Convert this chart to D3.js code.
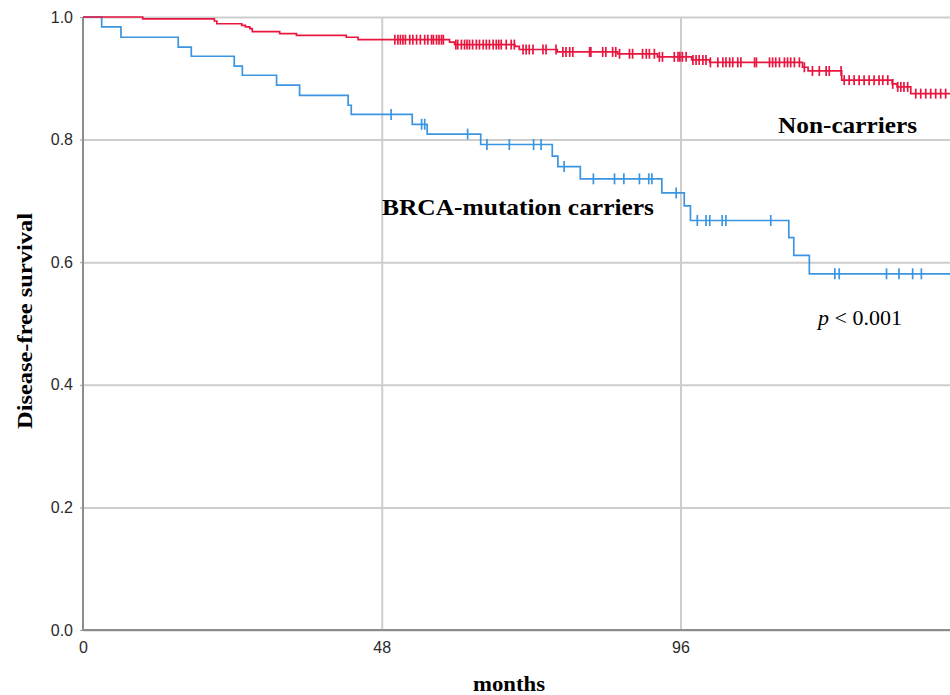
<!DOCTYPE html>
<html>
<head>
<meta charset="utf-8">
<script src="https://cdn.jsdelivr.net/npm/d3@7"></script>
<style>
  body { margin: 0; background: #fff; }
  svg { display: block; }
</style>
</head>
<body>
<div id="container"></div>
<script>
/* CONSTANTS AND GLOBALS */
const width = 950,
  height = 695,
  margin = { top: 17, bottom: 65, left: 83, right: 0 };

/* DATA */
// BRCA-mutation carriers: event months and survival after each drop
const brcaTimes = [3.0, 6.1, 15.3, 17.4, 24.3, 25.6, 31.1, 34.8, 42.6, 43.1, 52.9, 55.3,
  63.9, 75.4, 76.3, 79.9, 93.0, 96.6, 97.6, 113.4, 114.2, 116.7];
const brcaSurv = [0.984, 0.967, 0.951, 0.936, 0.920, 0.905, 0.889, 0.872, 0.856, 0.841, 0.825, 0.809,
  0.792, 0.773, 0.756, 0.736, 0.713, 0.692, 0.668, 0.640, 0.611, 0.581];
const brcaCensored = [49.5, 54.4, 54.9, 61.8, 64.9, 68.5, 72.4, 73.6, 77.3, 82.0, 85.4, 86.9,
  89.4, 90.9, 91.4, 95.3, 98.7, 100.1, 100.7, 102.7, 103.3, 110.5, 120.8, 121.5, 129.1, 131.1,
  133.3, 134.7];

// Non-carriers
const nonTimes = [9.6, 21.1, 21.5, 25.5, 26.1, 26.8, 27.2, 31.6, 34.3, 42.3, 44.2, 58.9, 59.7,
  69.4, 70.1, 76.2, 85.9, 92.3, 97.8, 100.7, 115.6, 116.5, 121.9, 130.0, 130.8, 133.0];
const nonSurv = [0.997, 0.9935, 0.989, 0.9865, 0.984, 0.981, 0.976, 0.973, 0.970, 0.967, 0.963,
  0.959, 0.955, 0.952, 0.947, 0.943, 0.940, 0.935, 0.930, 0.926, 0.918, 0.912, 0.897, 0.891,
  0.886, 0.875];
const nonCensored = [50.1, 50.6, 51.0, 51.4, 51.8, 52.5, 53.0, 53.6, 54.2, 54.9, 55.4, 56.0, 56.3,
  56.8, 57.2, 57.6, 57.9, 59.9, 60.2, 60.8, 61.3, 61.7, 62.1, 62.6, 63.2, 63.7, 64.3, 64.8, 65.3,
  65.9, 66.4, 66.8, 67.2, 68.0, 68.8, 69.3, 70.7, 71.2, 71.7, 72.3, 73.9, 74.4, 76.0, 77.1, 77.6,
  78.2, 78.7, 81.4, 81.6, 83.5, 84.0, 85.1, 85.6, 86.2, 87.8, 88.3, 89.9, 90.5, 91.0, 91.8, 92.6,
  93.1, 95.0, 95.6, 95.9, 96.3, 96.9, 98.0, 98.5, 99.0, 99.6, 100.1, 100.8, 102.0, 102.8, 103.3,
  103.9, 104.4, 105.2, 105.7, 107.9, 108.2, 110.3, 110.8, 111.3, 111.9, 112.7, 113.2, 113.7,
  114.3, 115.1, 115.9, 117.2, 118.3, 119.4, 119.9, 121.8, 122.3, 123.1, 123.9, 124.7, 125.5,
  126.3, 127.1, 127.9, 128.5, 129.3, 130.1, 130.9, 131.4, 131.9, 132.5, 133.8, 134.6, 135.4,
  136.2, 137.0, 137.8, 138.6];

const xTicks = [0, 48, 96];
const yTicks = [0, 0.2, 0.4, 0.6, 0.8, 1.0];
const maxMonth = 139.3;

/* SCALES */
const xScale = d3.scaleLinear()
  .domain([0, maxMonth])
  .range([margin.left, width - margin.right]);

const yScale = d3.scaleLinear()
  .domain([0, 1])
  .range([height - margin.bottom, margin.top]);

/* HTML ELEMENTS */
const svg = d3.select("#container")
  .append("svg")
  .attr("width", width)
  .attr("height", height);

// grid
svg.append("g")
  .attr("transform", `translate(${margin.left},0)`)
  .call(d3.axisLeft(yScale).tickValues(yTicks).tickSize(-(width - margin.left)).tickFormat(""))
  .call(g => g.select(".domain").remove())
  .call(g => g.selectAll("line").attr("stroke", "#cdcdcd").attr("stroke-width", 2));

svg.append("g")
  .attr("transform", `translate(0,${height - margin.bottom})`)
  .call(d3.axisBottom(xScale).tickValues(xTicks.slice(1)).tickSize(-(height - margin.bottom - margin.top)).tickFormat(""))
  .call(g => g.select(".domain").remove())
  .call(g => g.selectAll("line").attr("stroke", "#cdcdcd").attr("stroke-width", 2));

// axes
const yAxis = d3.axisLeft(yScale).tickValues(yTicks).tickSize(3).tickPadding(7).tickFormat(d3.format(".1f"));
const xAxis = d3.axisBottom(xScale).tickValues(xTicks).tickSize(0).tickPadding(12);

svg.append("g")
  .attr("transform", `translate(${margin.left},0)`)
  .call(yAxis)
  .call(g => g.select(".domain").attr("stroke", "#8c8c8c").attr("stroke-width", 2).attr("d", `M0,${yScale(0)}V${yScale(1)}`))
  .call(g => g.selectAll("line").attr("stroke", "#9a9a9a"))
  .call(g => g.selectAll("text").attr("fill", "#2a2a2a").style("font", "16px 'Liberation Sans', Arial, sans-serif"));

svg.append("g")
  .attr("transform", `translate(0,${height - margin.bottom})`)
  .call(xAxis)
  .call(g => g.select(".domain").attr("stroke", "#8c8c8c").attr("stroke-width", 2).attr("d", `M${xScale(0)},0H${width}`))
  .call(g => g.selectAll("text").attr("fill", "#2a2a2a").style("font", "16px 'Liberation Sans', Arial, sans-serif"));

/* CURVES */
function stepPoints(times, surv) {
  const pts = [[0, 1]];
  times.forEach((t, i) => pts.push([t, surv[i]]));
  pts.push([maxMonth, surv[surv.length - 1]]);
  return pts;
}
function survAt(times, surv, t) {
  let s = 1;
  times.forEach((ti, i) => { if (ti <= t) s = surv[i]; });
  return s;
}

const line = d3.line()
  .x(d => xScale(d[0]))
  .y(d => yScale(d[1]))
  .curve(d3.curveStepAfter);

const groups = [
  { times: brcaTimes, surv: brcaSurv, cens: brcaCensored, color: "#3b95e1", tick: 5.5 },
  { times: nonTimes, surv: nonSurv, cens: nonCensored, color: "#e8163f", tick: 5 }
];

groups.forEach(gr => {
  svg.append("path")
    .datum(stepPoints(gr.times, gr.surv))
    .attr("fill", "none")
    .attr("stroke", gr.color)
    .attr("stroke-width", 1.7)
    .attr("d", line);

  svg.append("g")
    .selectAll("line")
    .data(gr.cens)
    .join("line")
    .attr("x1", d => xScale(d))
    .attr("x2", d => xScale(d))
    .attr("y1", d => yScale(survAt(gr.times, gr.surv, d)) - gr.tick)
    .attr("y2", d => yScale(survAt(gr.times, gr.surv, d)) + gr.tick)
    .attr("stroke", gr.color)
    .attr("stroke-width", 1.7);
});

/* LABELS */
const serif = "'Liberation Serif', 'Times New Roman', serif";

svg.append("text")
  .attr("x", 778).attr("y", 133)
  .attr("textLength", 139).attr("lengthAdjust", "spacingAndGlyphs")
  .style("font", `bold 24px ${serif}`)
  .text("Non-carriers");

svg.append("text")
  .attr("x", 382).attr("y", 215)
  .attr("textLength", 272).attr("lengthAdjust", "spacingAndGlyphs")
  .style("font", `bold 24px ${serif}`)
  .text("BRCA-mutation carriers");

const pText = svg.append("text")
  .attr("x", 818).attr("y", 325)
  .style("font", `22px ${serif}`);
pText.append("tspan").style("font-style", "italic").text("p");
pText.append("tspan").text(" < 0.001");

svg.append("text")
  .attr("transform", `translate(32,321) rotate(-90)`)
  .attr("text-anchor", "middle")
  .attr("textLength", 216).attr("lengthAdjust", "spacingAndGlyphs")
  .style("font", `bold 21px ${serif}`)
  .text("Disease-free survival");

svg.append("text")
  .attr("x", 509).attr("y", 691)
  .attr("text-anchor", "middle")
  .attr("textLength", 72).attr("lengthAdjust", "spacingAndGlyphs")
  .style("font", `bold 21px ${serif}`)
  .text("months");
</script>
</body>
</html>
